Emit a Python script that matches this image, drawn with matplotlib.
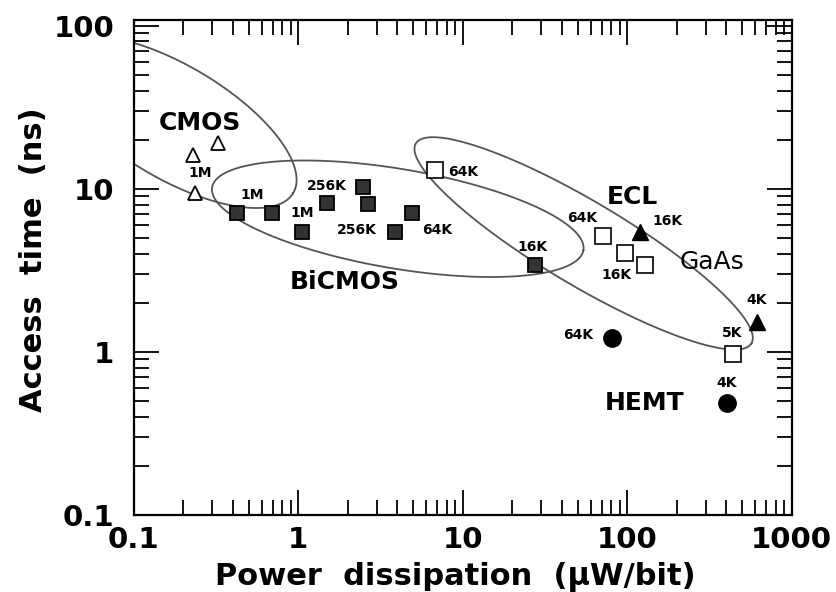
import numpy as np
import matplotlib
matplotlib.use("Agg")
import matplotlib.pyplot as plt

plt.rcParams['font.family'] = ['DejaVu Sans']
plt.rcParams['font.weight'] = 'bold'

# --- data (uW/bit, ns) ---
cmos_x = [0.229, 0.325, 0.235]
cmos_y = [16.2, 19.2, 9.4]

bicmos_x = [0.423, 0.690, 1.05, 1.49, 2.47, 2.64, 3.87, 4.9, 27.4]
bicmos_y = [7.12, 7.12, 5.45, 8.2, 10.3, 8.1, 5.45, 7.1, 3.42]

ecl_x = [6.76, 71, 96.6, 128, 438]
ecl_y = [13.1, 5.15, 4.05, 3.42, 0.97]

gaas_x = [119, 612]
gaas_y = [5.45, 1.53]

hemt_x = [80.5, 403]
hemt_y = [1.22, 0.486]

# memory size labels
size_text = ['1M', '1M', '1M', '256K', '256K', '64K', '16K',
             '64K', '64K', '16K', '16K', '4K', '5K', '64K', '4K']
size_x = [0.252, 0.528, 1.06, 1.49, 2.27, 6.95, 26.7,
          10.0, 53.6, 86.3, 176, 612, 432, 50, 403]
size_y = [12.4, 9.19, 7.12, 10.4, 5.6, 5.6, 4.41,
          12.7, 6.64, 2.97, 6.36, 2.08, 1.31, 1.27, 0.645]

# technology regions: centre (log10 x, log10 y), semi-axes (decades), angle (deg)
regions = {
    'CMOS':   (-0.76, 1.41, 0.85, 0.345, -31.0),
    'BiCMOS': (0.605, 0.816, 1.145, 0.305, -9.7),
    'GaAs':   (1.735, 0.665, 1.19, 0.256, -31.0),
}

group_names = ['CMOS', 'BiCMOS', 'ECL', 'GaAs', 'HEMT']
group_x = [0.252, 1.92, 108, 327, 128]
group_y = [25.4, 2.69, 8.93, 3.57, 0.486]
group_weight = ['bold', 'bold', 'bold', 'normal', 'bold']


def region_curve(uc, vc, a, b, ang):
    t = np.linspace(0, 2 * np.pi, 500)
    th = np.radians(ang)
    u = uc + a * np.cos(t) * np.cos(th) - b * np.sin(t) * np.sin(th)
    v = vc + a * np.cos(t) * np.sin(th) + b * np.sin(t) * np.cos(th)
    return 10 ** u, 10 ** v


fig = plt.figure(figsize=(8.36, 5.92), dpi=100)
ax = fig.add_axes([0.160, 0.130, 0.787, 0.836])
ax.set_xscale('log')
ax.set_yscale('log')

for name, p in regions.items():
    ex, ey = region_curve(*p)
    ax.plot(ex, ey, color='#555555', lw=1.3, zorder=1)

ax.plot(cmos_x, cmos_y, '^', ms=10, mfc='white', mec='black', mew=1.3, zorder=3)
ax.plot(bicmos_x, bicmos_y, 's', ms=9.5, mfc='#333333', mec='black', mew=1.3, zorder=3)
ax.plot(ecl_x, ecl_y, 's', ms=12, mfc='white', mec='black', mew=1.2, zorder=3)
ax.plot(gaas_x, gaas_y, '^', ms=11, mfc='black', mec='black', zorder=3)
ax.plot(hemt_x, hemt_y, 'o', ms=12.5, mfc='black', mec='black', zorder=3)

for s, x, y in zip(size_text, size_x, size_y):
    ax.text(x, y, s, fontsize=10, fontweight='bold', ha='center', va='center', zorder=4)

for s, x, y, w in zip(group_names, group_x, group_y, group_weight):
    ax.text(x, y, s, fontsize=18, fontweight=w, ha='center', va='center', zorder=4)

ax.set_xlim(0.1, 1000)
ax.set_ylim(0.1, 108)
ax.set_xticks([0.1, 1, 10, 100, 1000])
ax.set_xticklabels(['0.1', '1', '10', '100', '1000'])
ax.set_yticks([0.1, 1, 10, 100])
ax.set_yticklabels(['0.1', '1', '10', '100'])

ax.tick_params(which='both', direction='in', top=True, right=True, width=1.3)
ax.tick_params(which='major', length=18, labelsize=21, pad=8)
ax.tick_params(axis='y', which='major', pad=14)
ax.tick_params(which='minor', length=11)
for sp in ax.spines.values():
    sp.set_linewidth(1.6)

fig.text(455 / 836, 1 - 577 / 592, 'Power  dissipation  (μW/bit)',
         fontsize=22, fontweight='bold', ha='center', va='center')
fig.text(34 / 836, 1 - 260 / 592, 'Access  time  (ns)', rotation=90,
         fontsize=22, fontweight='bold', ha='center', va='center')

fig.savefig('out.png', dpi=100)
